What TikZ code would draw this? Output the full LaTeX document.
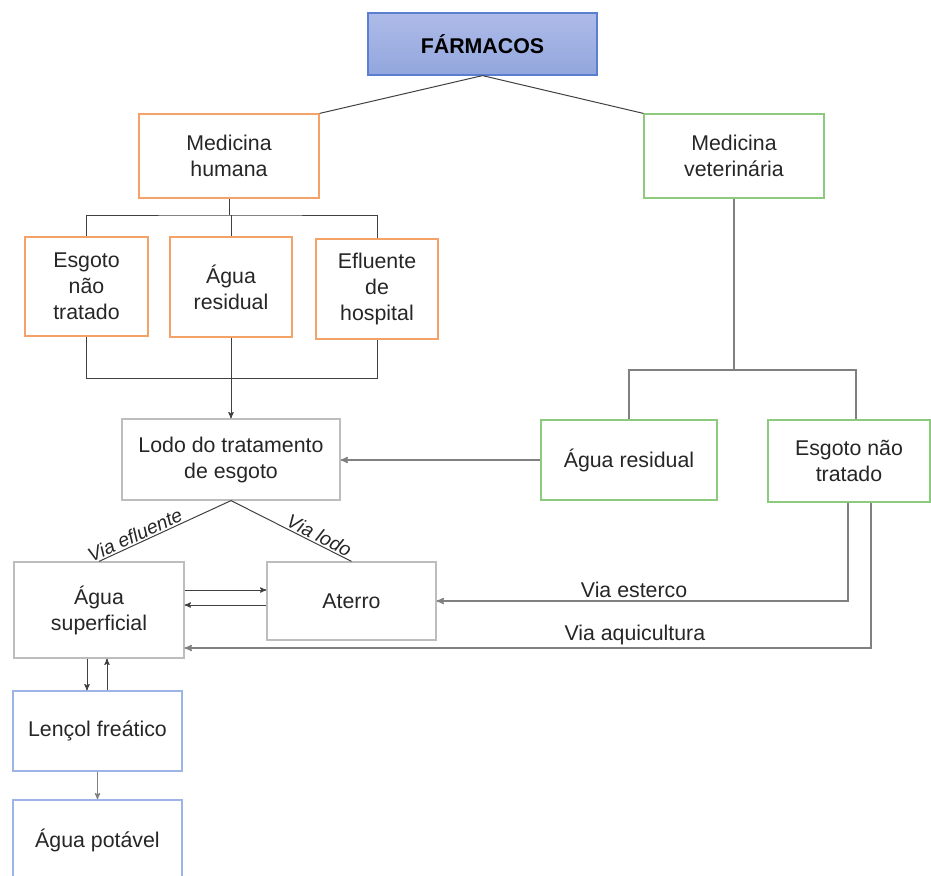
\documentclass[tikz,border=0pt]{standalone}
\usepackage{fontspec}
\setmainfont{Liberation Sans}
\usetikzlibrary{arrows,positioning}

\definecolor{txtgray}{HTML}{262626}
\definecolor{linegray}{HTML}{404040}
\definecolor{farmtop}{HTML}{AEBBE8}
\definecolor{farmbot}{HTML}{92A6DD}
\definecolor{farmdraw}{HTML}{5B7FD0}
\definecolor{orangeline}{HTML}{F5A268}
\definecolor{greenline}{HTML}{8CCB7E}
\definecolor{grayline}{HTML}{BDBDBD}
\definecolor{blueline}{HTML}{9DB5E6}

\tikzset{
  box/.style={draw, align=center, inner sep=2pt, text=txtgray,
    font=\fontsize{16}{19.5}\selectfont, line width=0.9pt},
  orangebox/.style={box, draw=orangeline},
  greenbox/.style={box, draw=greenline},
  graybox/.style={box, draw=grayline},
  bluebox/.style={box, draw=blueline},
  vialabel/.style={font=\fontsize{16}{19.5}\selectfont, text=txtgray, inner sep=2pt},
  viaslope/.style={font=\itshape\fontsize{14.5}{17}\selectfont, text=txtgray, sloped, above, inner sep=1pt}
}

\begin{document}
\begin{tikzpicture}[x=0.75pt,y=-0.75pt,>=stealth',line width=0.75pt,draw=linegray]
    \useasboundingbox (0,0) rectangle (931,875);

    % sources
    \node[box, draw=farmdraw, top color=farmtop, bottom color=farmbot, minimum width=229*0.75pt, minimum height=62*0.75pt,
          font=\bfseries\fontsize{16}{19.5}\selectfont, text=black] (farm) at (482.5,44) {FÁRMACOS};
    \node[orangebox, minimum width=180*0.75pt, minimum height=84*0.75pt] (medh) at (229,156) {Medicina\\humana};
    \node[greenbox, minimum width=180*0.75pt, minimum height=84*0.75pt] (medv) at (734,156) {Medicina\\veterinária};

    % human branch
    \node[orangebox, minimum width=123*0.75pt, minimum height=99*0.75pt] (esgh) at (86.5,286.5) {Esgoto\\não\\tratado};
    \node[orangebox, minimum width=122*0.75pt, minimum height=100*0.75pt] (aguh) at (231,287) {Água\\residual};
    \node[orangebox, minimum width=122*0.75pt, minimum height=100*0.75pt] (eflu) at (377,289) {Efluente\\de\\hospital};
    \node[graybox, minimum width=218*0.75pt, minimum height=81*0.75pt] (lodo) at (231,459.5) {Lodo do tratamento\\de esgoto};

    % veterinary branch
    \node[greenbox, minimum width=176*0.75pt, minimum height=80*0.75pt] (aguv) at (629,460) {Água residual};
    \node[greenbox, minimum width=162*0.75pt, minimum height=82*0.75pt] (esgv) at (849,461) {Esgoto não\\tratado};

    % environment
    \node[graybox, minimum width=170*0.75pt, minimum height=96*0.75pt] (sup) at (99,610) {Água\\superficial};
    \node[graybox, minimum width=169*0.75pt, minimum height=78*0.75pt] (ater) at (351.5,601) {Aterro};
    \node[bluebox, minimum width=169*0.75pt, minimum height=80*0.75pt] (lenc) at (97.5,731) {Lençol freático};
    \node[bluebox, minimum width=169*0.75pt, minimum height=80*0.75pt] (pota) at (97.5,840) {Água potável};

    \coordinate (hj) at (229,215);
    \coordinate (hk) at (231,378);
    \coordinate (vj) at (734,370);

    \draw (farm.south) -- (medh.north east);
    \draw (farm.south) -- (medv.north west);

    \draw (medh.south) -- (hj);
    \draw (esgh.north) |- (hj) -| (eflu.north);
    \draw (aguh.north) -- (aguh.north |- hj);
    \draw (esgh.south) |- (eflu.south |- hk) -- (eflu.south);
    \draw[->] (aguh.south) -- (lodo.north);

    \draw[draw=gray, line width=1pt] (medv.south) -- (vj);
    \draw[draw=gray, line width=1pt] (aguv.north) |- (vj) -| (esgv.north -| 856,0);
    \draw[->, draw=gray, line width=1pt] (aguv.west) -- (lodo.east |- aguv.west);

    \draw (lodo.south) -- node[viaslope, pos=0.7] {Via efluente} (sup.north);
    \draw (lodo.south) -- node[viaslope, pos=0.7] {Via lodo} (ater.north);

    \draw[->] (sup.east |- 0,590) -- (ater.west |- 0,590);
    \draw[->] (ater.west |- 0,605) -- (sup.east |- 0,605);

    \draw[->, draw=gray, line width=1pt] (esgv.south -| 848,0) |- node[vialabel, above, pos=0.76] {Via esterco} (ater.east);
    \draw[->, draw=gray, line width=1pt] (esgv.south -| 871,0) |- node[vialabel, above, pos=0.672] {Via aquicultura} (sup.east |- 0,648);

    \draw[->] (sup.south -| 87,0) -- (lenc.north -| 87,0);
    \draw[->] (lenc.north -| 107,0) -- (sup.south -| 107,0);
    \draw[->, draw=gray] (lenc.south) -- (pota.north);
\end{tikzpicture}
\end{document}
